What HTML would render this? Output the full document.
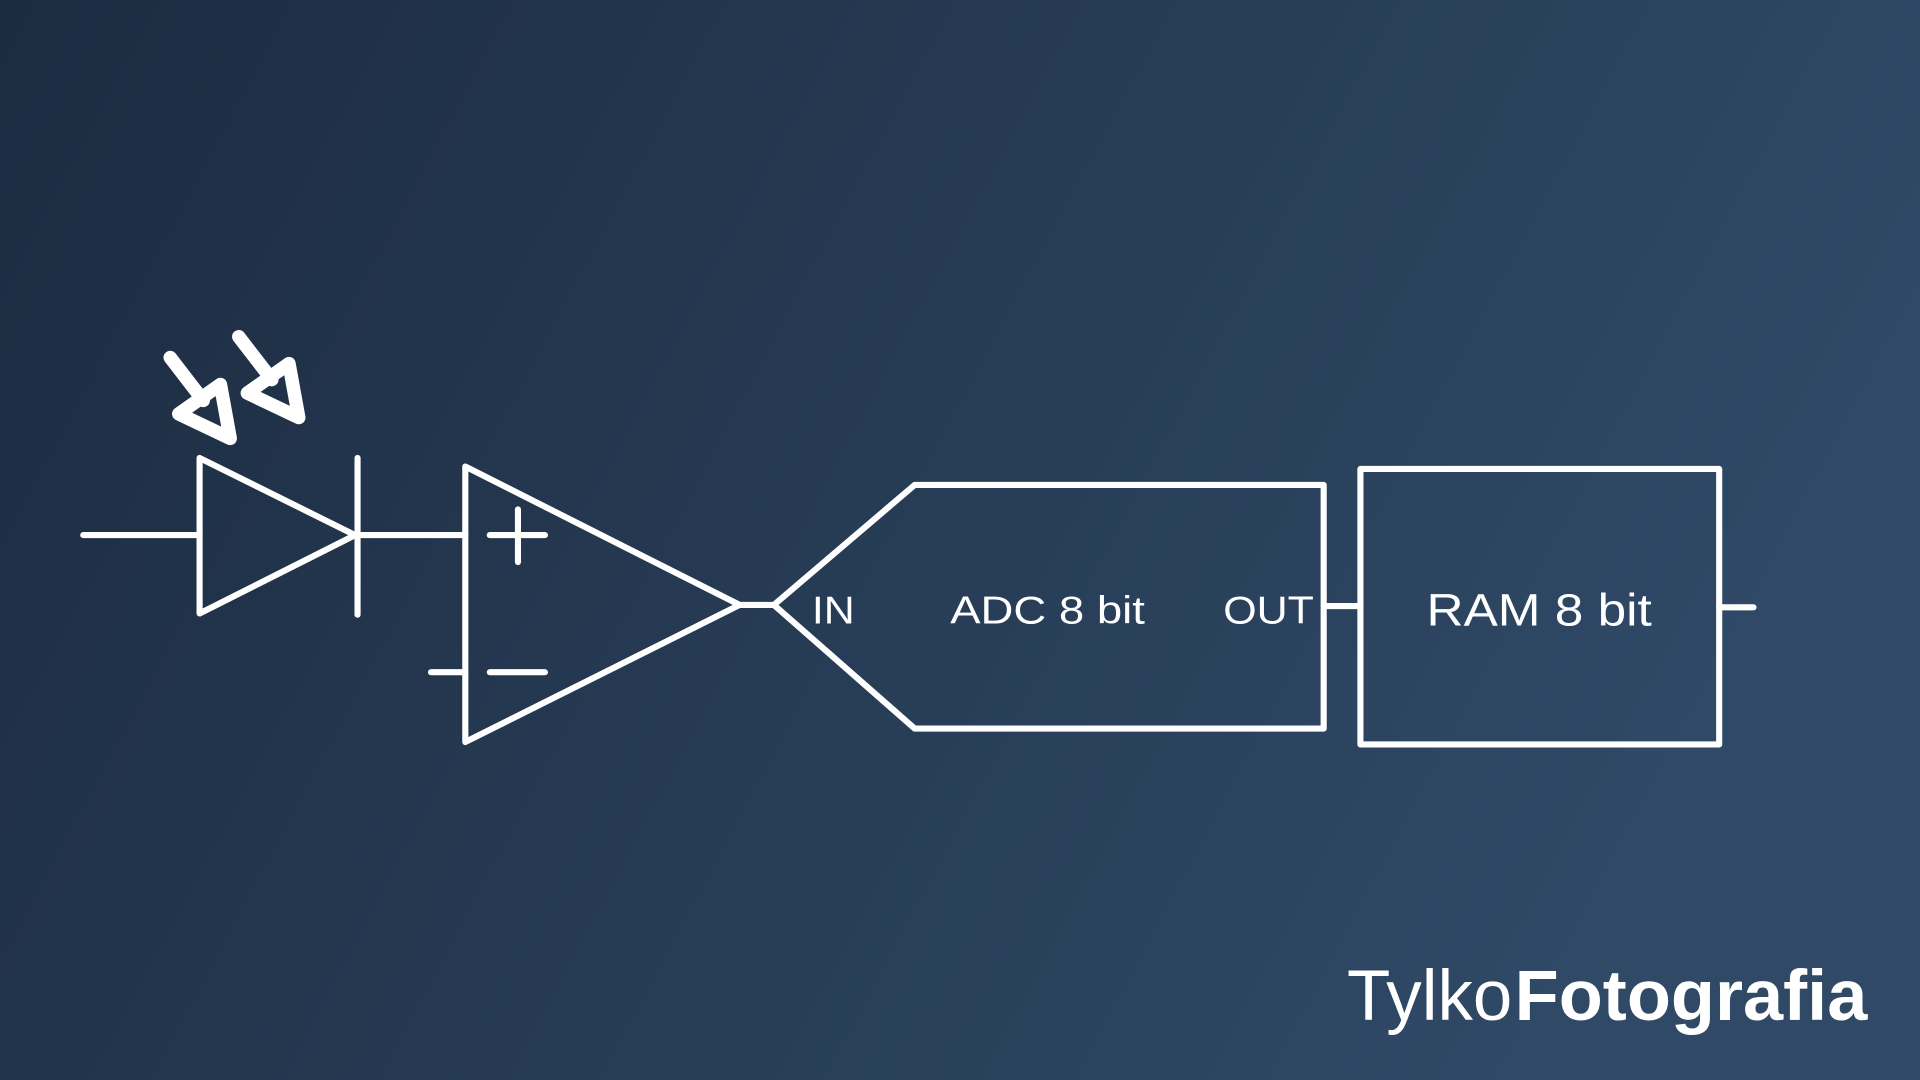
<!DOCTYPE html>
<html><head><style>html,body{margin:0;padding:0;width:1920px;height:1080px;overflow:hidden}</style></head>
<body>
<svg width="1920" height="1080" viewBox="0 0 1568 882" xmlns="http://www.w3.org/2000/svg">
<defs><linearGradient id="g" x1="0" y1="0" x2="1" y2="0.3"><stop offset="0" stop-color="#1c2b40"/><stop offset="1" stop-color="#2f4966"/></linearGradient></defs>
<rect width="1568" height="882" fill="url(#g)"/>
<g fill="none" stroke="#fff" stroke-width="5" stroke-linecap="round" stroke-linejoin="round">
<line x1="68" y1="437" x2="163" y2="437"/>
<polygon points="163,374 163,501 290,437"/>
<line x1="292" y1="374" x2="292" y2="502"/>
<line x1="290" y1="437" x2="380" y2="437"/>
<polygon points="380,381 380,606 604,494"/>
<line x1="400" y1="437" x2="445" y2="437"/><line x1="423" y1="416" x2="423" y2="459"/>
<line x1="352" y1="549" x2="380" y2="549"/><line x1="400" y1="549" x2="445" y2="549"/>
<line x1="604" y1="494" x2="632" y2="494"/>
<polygon points="632,494 747,396 1081,396 1081,595 747,595"/>
<line x1="1081" y1="495" x2="1111" y2="495"/>
<rect x="1111" y="383" width="293" height="225"/>
<line x1="1404" y1="496" x2="1432" y2="496"/>
</g>
<g fill="none" stroke="#fff" stroke-width="11" stroke-linecap="round" stroke-linejoin="round">
<line x1="139" y1="292" x2="166" y2="327"/>
<polygon points="146,338 180,314 188,358"/>
<line x1="195" y1="275" x2="222" y2="310"/>
<polygon points="202,321 236,297 244,341"/>
</g>
<g fill="#fff" font-family="Liberation Sans, sans-serif" lengthAdjust="spacingAndGlyphs">
<text x="663" y="509" font-size="32" textLength="35" lengthAdjust="spacingAndGlyphs">IN</text>
<text x="776" y="509" font-size="32" textLength="159" lengthAdjust="spacingAndGlyphs">ADC 8 bit</text>
<text x="999" y="509" font-size="32" textLength="74" lengthAdjust="spacingAndGlyphs">OUT</text>
<text x="1165" y="511" font-size="37" textLength="184" lengthAdjust="spacingAndGlyphs">RAM 8 bit</text>
<text x="1100" y="833" font-size="58" textLength="135" lengthAdjust="spacingAndGlyphs">Tylko</text>
<text x="1237" y="833" font-size="58" textLength="288" font-weight="bold" lengthAdjust="spacingAndGlyphs">Fotografia</text>
</g>
</svg>
</body></html>
